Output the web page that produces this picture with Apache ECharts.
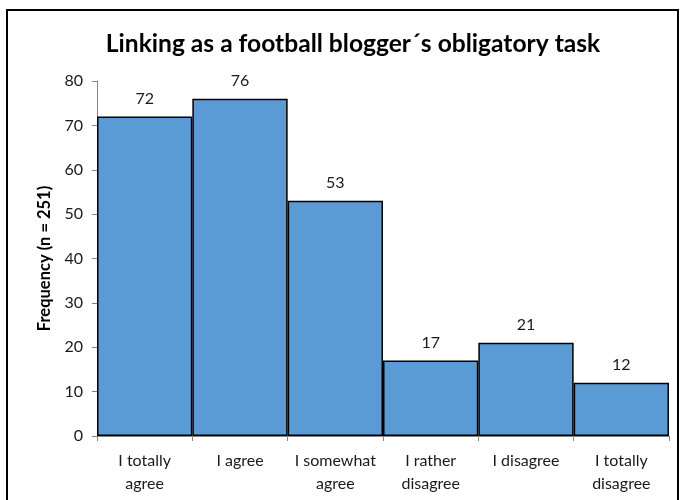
<!DOCTYPE html>
<html>
<head>
<meta charset="utf-8">
<script src="https://cdn.jsdelivr.net/npm/echarts@6/dist/echarts.min.js"></script>
<style>
  html, body { margin: 0; padding: 0; background: #fff; }
  #chart { width: 681px; height: 500px; }
</style>
</head>
<body>
<div id="chart"></div>
<script>
// Survey answers and how many bloggers gave each one
const categories = ['I totally\nagree', 'I agree', 'I somewhat\nagree', 'I rather\ndisagree', 'I disagree', 'I totally\ndisagree'];
const frequencies = [72, 76, 53, 17, 21, 12];
const yTicks = { min: 0, max: 80, interval: 10 };

const FONT = 'Lato, "Open Sans", sans-serif';

const chart = echarts.init(document.getElementById('chart'));
chart.setOption({
  animation: false,
  backgroundColor: '#fff',
  title: {
    text: 'Linking as a football blogger\u00b4s obligatory task',
    left: 348,
    textAlign: 'center',
    top: 27,
    textStyle: { fontFamily: FONT, fontSize: 24.6, fontWeight: 'bold', color: '#000' }
  },
  graphic: [{
    type: 'rect',
    shape: { x: 7, y: 10, width: 671, height: 520 },
    style: { fill: 'none', stroke: '#000', lineWidth: 2 },
    silent: true
  }],
  grid: { left: 97, right: 12, top: 81, bottom: 64 },
  xAxis: {
    type: 'category',
    data: categories,
    axisLine: { lineStyle: { color: '#868686', width: 1 } },
    axisTick: { show: true, length: 5, lineStyle: { color: '#868686' } },
    axisLabel: {
      fontFamily: FONT, fontSize: 16, color: '#1a1a1a',
      margin: 13, lineHeight: 23, interval: 0
    }
  },
  yAxis: {
    type: 'value',
    min: yTicks.min, max: yTicks.max, interval: yTicks.interval,
    name: 'Frequency (n = 251)',
    nameLocation: 'middle',
    nameGap: 44,
    nameRotate: 90,
    nameTextStyle: { fontFamily: FONT, fontSize: 16.5, fontWeight: 'bold', color: '#000' },
    axisLine: { show: true, lineStyle: { color: '#868686', width: 1 } },
    axisTick: { show: true, length: 5, lineStyle: { color: '#868686' } },
    splitLine: { show: false },
    axisLabel: { fontFamily: FONT, fontSize: 16, color: '#1a1a1a', margin: 14 }
  },
  series: [{
    type: 'bar',
    data: frequencies,
    barCategoryGap: 0,
    itemStyle: { color: '#5B9BD5', borderColor: '#000', borderWidth: 1.5 },
    label: {
      show: true, position: 'top', distance: 10,
      fontFamily: FONT, fontSize: 16, color: '#1a1a1a'
    }
  }]
});
</script>
</body>
</html>
